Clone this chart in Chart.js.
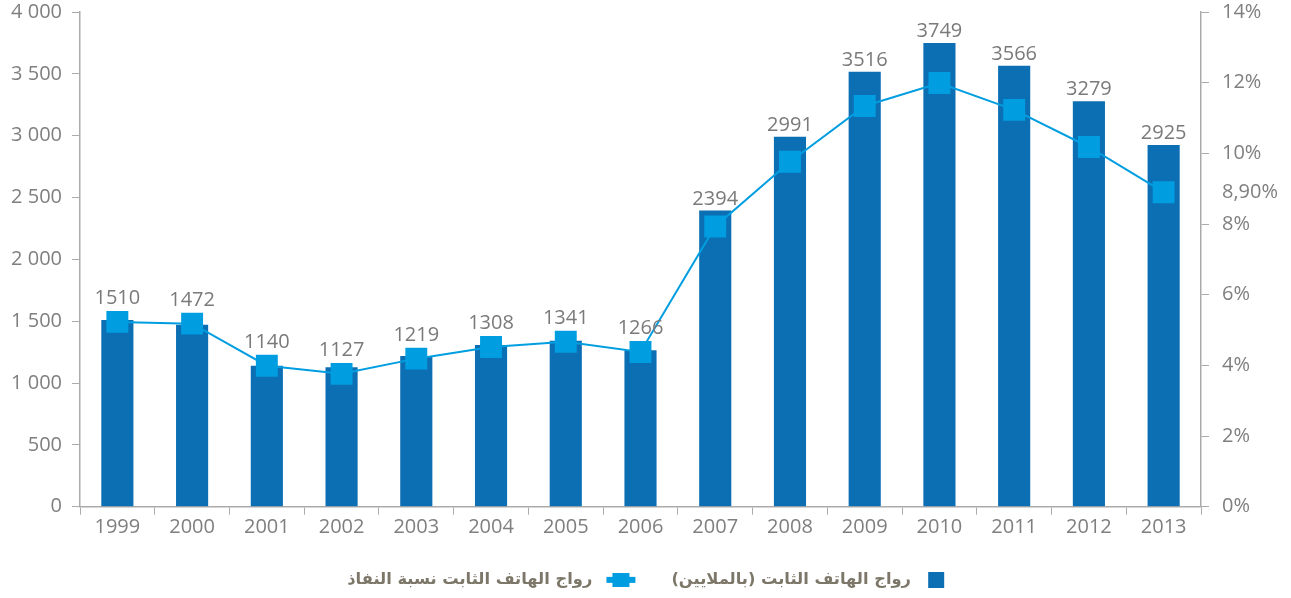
<!DOCTYPE html>
<html lang="ar">
<head>
<meta charset="utf-8">
<title>رواج الهاتف الثابت</title>
<script src="https://cdn.jsdelivr.net/npm/chart.js@4.4.1/dist/chart.umd.min.js"></script>
<style>
  html, body { margin: 0; padding: 0; background: #fff; }
  #wrap { width: 1291px; height: 598px; }
</style>
</head>
<body>
<div id="wrap"><canvas id="fixedChart" dir="ltr"></canvas></div>
<script>
// Years on the x axis
const years = ["1999", "2000", "2001", "2002", "2003", "2004", "2005", "2006", "2007", "2008", "2009", "2010", "2011", "2012", "2013"];
// Fixed-line subscribers (bars, left axis)
const subscribers = [1510, 1472, 1140, 1127, 1219, 1308, 1341, 1266, 2394, 2991, 3516, 3749, 3566, 3279, 2925];
// Penetration rate in % (line, right axis)
const penetration = [5.23, 5.18, 3.99, 3.76, 4.19, 4.52, 4.67, 4.38, 7.93, 9.76, 11.34, 11.99, 11.23, 10.18, 8.9];
// Axis ticks
const leftTicks = [0, 500, 1000, 1500, 2000, 2500, 3000, 3500, 4000];
const rightTicks = [0, 2, 4, 6, 8, 10, 12, 14];
// Legend texts
const barLabel = "رواج الهاتف الثابت (بالملايين)";
const lineLabel = "رواج الهاتف الثابت نسبة النفاذ";

const BAR_BLUE = "#0c6fb4";
const LINE_BLUE = "#009ee0";
const AXIS_GREY = "#ababab";
const TEXT_GREY = "#7f7f7f";
const LEGEND_TEXT = "#7c7768";
const TICK_FONT = { family: "'Open Sans', sans-serif", size: 20 };
const RLM = "\u200F";
const NBSP = "\u00A0";
const BOX_W = 36;

// last penetration value gets its own label on the right axis
const lastRate = penetration[penetration.length - 1];

// legend swatches; the image is centred on the legend box, so
// x positions below are given in box coordinates and shifted
function makeSwatch(w, h, draw) {
  const c = document.createElement("canvas");
  c.width = w;
  c.height = h;
  const g = c.getContext("2d");
  g.translate((w - BOX_W) / 2, 0);
  draw(g);
  return c;
}
const barSwatch = makeSwatch(BOX_W, 16, g => {
  g.fillStyle = BAR_BLUE;
  g.fillRect(9, 0, 16, 16);
});
const lineSwatch = makeSwatch(BOX_W, 14, g => {
  g.fillStyle = LINE_BLUE;
  g.fillRect(6, 4, 29, 6);
  g.fillRect(12, 0, 17, 14);
});

function spaced(n) {
  return String(n).replace(/\B(?=(\d{3})+(?!\d))/g, " ");
}

// value labels over each year
const valueLabels = {
  id: "valueLabels",
  afterDatasetsDraw(chart) {
    const bars = chart.getDatasetMeta(0).data;
    const points = chart.getDatasetMeta(1).data;
    const ctx = chart.ctx;
    ctx.save();
    ctx.font = "20px 'Open Sans', sans-serif";
    ctx.fillStyle = "#7a7a7a";
    ctx.textAlign = "center";
    ctx.textBaseline = "alphabetic";
    subscribers.forEach((v, i) => {
      const y = Math.min(points[i].y - 18, bars[i].y - 6);
      ctx.fillText(String(v), points[i].x, y);
    });
    ctx.restore();
  }
};

// RLM keeps the parentheses in place; trailing spaces nudge the legend right
function legendItem(text, swatch, color, index, pad) {
  return {
    text: RLM + text + NBSP.repeat(pad) + RLM,
    pointStyle: swatch,
    fillStyle: color,
    strokeStyle: color,
    fontColor: LEGEND_TEXT,
    lineWidth: 0,
    hidden: false,
    datasetIndex: index
  };
}

function fixVertical(width) {
  return s => {
    s.width = width;
    s.paddingTop = 0;
    s.paddingBottom = 0;
  };
}

new Chart(document.getElementById("fixedChart"), {
  data: {
    labels: years,
    datasets: [
      {
        type: "bar",
        label: barLabel,
        data: subscribers,
        backgroundColor: BAR_BLUE,
        yAxisID: "y",
        barPercentage: 0.43,
        categoryPercentage: 1,
        order: 2
      },
      {
        type: "line",
        label: lineLabel,
        data: penetration,
        yAxisID: "pct",
        borderColor: LINE_BLUE,
        borderWidth: 2,
        pointStyle: "rect",
        pointRadius: 15.5,
        pointHoverRadius: 15.5,
        pointBackgroundColor: LINE_BLUE,
        pointBorderWidth: 0,
        tension: 0,
        order: 1
      }
    ]
  },
  options: {
    responsive: true,
    maintainAspectRatio: false,
    animation: false,
    layout: { autoPadding: false, padding: { top: 12, left: 0, right: 0, bottom: 0 } },
    scales: {
      x: {
        grid: { drawOnChartArea: false, offset: true, color: AXIS_GREY, tickLength: 8 },
        border: { color: AXIS_GREY, width: 1.5 },
        ticks: { color: TEXT_GREY, font: TICK_FONT, padding: 1, maxRotation: 0, autoSkip: false },
        afterFit: s => { s.height = 30; }
      },
      y: {
        position: "left",
        min: 0,
        max: 4000,
        afterBuildTicks: s => { s.ticks = leftTicks.map(v => ({ value: v })); },
        grid: { drawOnChartArea: false, color: AXIS_GREY, tickLength: 8 },
        border: { color: AXIS_GREY, width: 1.5 },
        ticks: { color: TEXT_GREY, font: TICK_FONT, padding: 10, callback: v => spaced(v) },
        afterFit: fixVertical(80)
      },
      pct: {
        position: "right",
        min: 0,
        max: 14,
        afterBuildTicks: s => {
          s.ticks = rightTicks.concat([lastRate]).sort((a, b) => a - b).map(v => ({ value: v }));
        },
        grid: {
          drawOnChartArea: false,
          color: AXIS_GREY,
          tickColor: c => (c.tick && c.tick.value === lastRate ? "rgba(0,0,0,0)" : AXIS_GREY),
          tickLength: 8
        },
        border: { color: AXIS_GREY, width: 1.5 },
        ticks: {
          color: TEXT_GREY,
          font: TICK_FONT,
          padding: 13,
          autoSkip: false,
          callback: v => (v === lastRate ? v.toFixed(2).replace(".", ",") + "%" : v + "%")
        },
        afterFit: fixVertical(90)
      }
    },
    plugins: {
      tooltip: { enabled: false },
      legend: {
        position: "bottom",
        rtl: true,
        labels: {
          usePointStyle: true,
          pointStyleWidth: BOX_W,
          padding: 35,
          color: LEGEND_TEXT,
          font: { family: "'DejaVu Sans', sans-serif", size: 16.3, weight: "bold" },
          generateLabels: () => [
            legendItem(barLabel, barSwatch, BAR_BLUE, 0, 0),
            legendItem(lineLabel, lineSwatch, LINE_BLUE, 1, 2)
          ]
        }
      }
    }
  },
  plugins: [valueLabels]
});
</script>
</body>
</html>
